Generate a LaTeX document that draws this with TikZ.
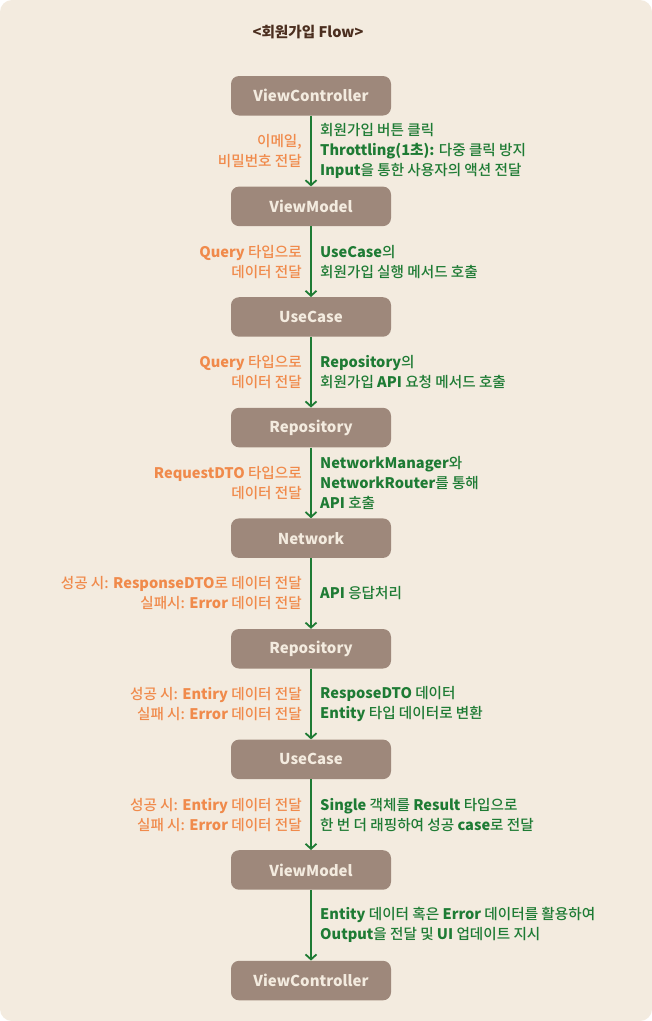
\documentclass[tikz,border=0pt]{standalone}
\usepackage{fontspec}
\setmainfont{Noto Sans CJK KR Medium}[BoldFont=Noto Sans CJK KR Black]
\usetikzlibrary{arrows.meta,positioning}
\definecolor{bgcol}{HTML}{F3EBDF}
\definecolor{boxcol}{HTML}{9E887B}
\definecolor{flowgreen}{HTML}{1E7B34}
\definecolor{dataorange}{HTML}{F08A4B}
\definecolor{titlecol}{HTML}{4B2E1F}
\tikzset{
  layer/.style={fill=boxcol,rounded corners=8pt,minimum width=160pt,minimum height=39.5pt,
    text=bgcol,font=\fontsize{15}{17}\selectfont\bfseries},
  flow/.style={draw=flowgreen,line width=1.8pt,-{Straight Barb[length=5pt,width=11pt]}},
  rlabel/.style={anchor=west,xshift=5pt,align=left,text=flowgreen,
    font=\fontsize{14.6}{20}\selectfont},
  llabel/.style={anchor=east,xshift=-5pt,align=right,text=dataorange,
    font=\fontsize{14.6}{20}\selectfont}
}
\begin{document}
\begin{tikzpicture}[x=1pt,y=1pt,node distance=70.7pt]
  \useasboundingbox (0,0) rectangle (652,-1021);
  \fill[white] (0,0) rectangle (652,-1021);
  \fill[bgcol,rounded corners=12pt] (0,0) rectangle (652,-1021);
  \node[text=titlecol,font=\fontsize{14.6}{17}\selectfont\bfseries] (title) at (308,-32) {<회원가입 Flow>};
  % layers
  \node[layer] (vc) at (311,-95.75) {ViewController};
  \node[layer,below=of vc] (vm) {ViewModel};
  \node[layer,below=of vm] (uc) {UseCase};
  \node[layer,below=of uc] (repo) {Repository};
  \node[layer,below=of repo] (net) {Network};
  \node[layer,below=of net] (repoback) {Repository};
  \node[layer,below=of repoback] (ucback) {UseCase};
  \node[layer,below=of ucback] (vmback) {ViewModel};
  \node[layer,below=of vmback] (vcback) {ViewController};
  % request
  \path[flow]
    (vc) edge node[rlabel] {회원가입 버튼 클릭\\\textbf{Throttling(1초):} 다중 클릭 방지\\\textbf{Input}을 통한 사용자의 액션 전달}
              node[llabel] {이메일,\\비밀번호 전달} (vm)
    (vm) edge node[rlabel] {\textbf{UseCase}의\\회원가입 실행 메서드 호출}
              node[llabel] {\textbf{Query} 타입으로\\데이터 전달} (uc)
    (uc) edge node[rlabel] {\textbf{Repository}의\\회원가입 \textbf{API} 요청 메서드 호출}
              node[llabel] {\textbf{Query} 타입으로\\데이터 전달} (repo)
    (repo) edge node[rlabel] {\textbf{NetworkManager}와\\\textbf{NetworkRouter}를 통해\\\textbf{API} 호출}
              node[llabel] {\textbf{RequestDTO} 타입으로\\데이터 전달} (net);
  % response
  \path[flow]
    (net) edge node[rlabel] {\textbf{API} 응답처리}
              node[llabel] {성공 시: \textbf{ResponseDTO}로 데이터 전달\\실패시: \textbf{Error} 데이터 전달} (repoback)
    (repoback) edge node[rlabel] {\textbf{ResposeDTO} 데이터\\\textbf{Entity} 타입 데이터로 변환}
              node[llabel] {성공 시: \textbf{Entiry} 데이터 전달\\실패 시: \textbf{Error} 데이터 전달} (ucback)
    (ucback) edge node[rlabel] {\textbf{Single} 객체를 \textbf{Result} 타입으로\\한 번 더 래핑하여 성공 \textbf{case}로 전달}
              node[llabel] {성공 시: \textbf{Entiry} 데이터 전달\\실패 시: \textbf{Error} 데이터 전달} (vmback)
    (vmback) edge node[rlabel] {\textbf{Entity} 데이터 혹은 \textbf{Error} 데이터를 활용하여\\\textbf{Output}을 전달 및 \textbf{UI} 업데이트 지시} (vcback);
\end{tikzpicture}
\end{document}
